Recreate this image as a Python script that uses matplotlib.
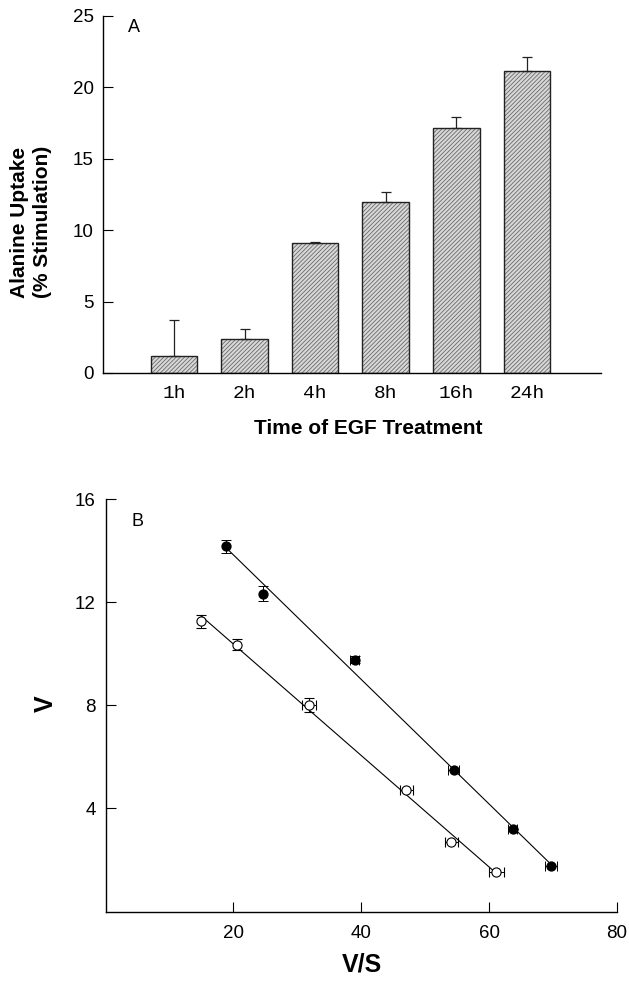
import numpy as np
import matplotlib
matplotlib.use("Agg")
import matplotlib.pyplot as plt

plt.rcParams['font.family'] = ['Liberation Sans', 'DejaVu Sans']
plt.rcParams['hatch.linewidth'] = 0.6

# panel A: alanine uptake after EGF treatment
times = ["1h", "2h", "4h", "8h", "16h", "24h"]
uptake = [1.17, 2.36, 9.1, 12.0, 17.13, 21.15]
uptake_err = [2.52, 0.74, 0.1, 0.7, 0.77, 0.95]

# panel B: Eadie-Hofstee plot
filled_vs = [18.85, 24.6, 38.98, 54.46, 63.7, 69.7]
filled_v = [14.17, 12.34, 9.78, 5.48, 3.2, 1.75]
filled_xerr = [0.0, 0.0, 0.7, 0.9, 0.7, 0.9]
filled_yerr = [0.25, 0.3, 0.15, 0.0, 0.0, 0.0]

open_vs = [14.93, 20.58, 31.87, 47.03, 54.09, 61.15]
open_v = [11.26, 10.36, 8.01, 4.70, 2.71, 1.53]
open_xerr = [0.0, 0.0, 1.1, 1.0, 1.05, 1.1]
open_yerr = [0.25, 0.21, 0.27, 0.0, 0.0, 0.0]

W, H = 629, 983
fig = plt.figure(figsize=(W / 100, H / 100), dpi=100)

def box(l, t, r, b):
    return [l / W, 1 - b / H, (r - l) / W, (b - t) / H]

# ---------- panel A ----------
axA = fig.add_axes(box(103.5, 16, 601, 373))
pos = np.arange(1, len(times) + 1)
axA.bar(pos, uptake, width=0.66, color='#d8d8d8', edgecolor='#6a6a6a',
        linewidth=0, hatch='////////')
axA.bar(pos, uptake, width=0.66, fill=False, edgecolor='#222222', linewidth=1.0)
axA.errorbar(pos, uptake, yerr=[np.zeros(len(uptake)), uptake_err], fmt='none',
             ecolor='#222222', elinewidth=0.9, capsize=3.6, capthick=0.9)
axA.set_xlim(0, 7.05)
axA.set_ylim(0, 25)
axA.set_yticks([0, 5, 10, 15, 20, 25])
axA.set_xticks(pos)
axA.set_xticklabels(times, family=['Liberation Mono', 'DejaVu Sans Mono'], fontsize=14)
axA.tick_params(axis='y', direction='in', length=7, width=0.8, pad=7, labelsize=13.5)
axA.tick_params(axis='x', length=0, pad=9)
for s in ['top', 'right']:
    axA.spines[s].set_visible(False)
for s in ['left', 'bottom']:
    axA.spines[s].set_linewidth(1.0)
fig.text(134 / W, 1 - 27 / H, "A", fontsize=13, ha='center', va='center')
fig.text(31 / W, 1 - 222 / H, "Alanine Uptake\n(% Stimulation)", rotation=90,
         fontsize=15, fontweight='bold', ha='center', va='center',
         multialignment='center')
fig.text(368 / W, 1 - 428 / H, "Time of EGF Treatment", fontsize=15,
         fontweight='bold', ha='center', va='center')

# ---------- panel B ----------
axB = fig.add_axes(box(105.5, 499.3, 617, 911.5))
for xs, ys in [(filled_vs, filled_v), (open_vs, open_v)]:
    k, c = np.polyfit(xs, ys, 1)
    xx = np.array([min(xs), max(xs)])
    axB.plot(xx, k * xx + c, color='black', linewidth=0.8, zorder=1)
axB.errorbar(filled_vs, filled_v, xerr=filled_xerr, yerr=filled_yerr, fmt='o',
             ms=6.4, mfc='black', mec='black', ecolor='black', elinewidth=0.7,
             capsize=3.6, capthick=0.7, zorder=3)
axB.errorbar(open_vs, open_v, xerr=open_xerr, yerr=open_yerr, fmt='o',
             ms=6.6, mfc='white', mec='black', mew=0.8, ecolor='black',
             elinewidth=0.7, capsize=3.6, capthick=0.7, zorder=3)
axB.set_xlim(0, 80)
axB.set_ylim(0, 16)
axB.set_xticks([20, 40, 60, 80])
axB.set_yticks([4, 8, 12, 16])
axB.tick_params(axis='both', direction='in', length=7, width=0.8, labelsize=13.5)
axB.tick_params(axis='y', pad=7)
axB.tick_params(axis='x', pad=10)
for s in ['top', 'right']:
    axB.spines[s].set_visible(False)
for s in ['left', 'bottom']:
    axB.spines[s].set_linewidth(1.0)
fig.text(137.7 / W, 1 - 522 / H, "B", fontsize=13, ha='center', va='center')
fig.text(46 / W, 1 - 704 / H, "V", fontsize=18, fontweight='bold',
         ha='center', va='center', rotation=90)
fig.text(362 / W, 1 - 965 / H, "V/S", fontsize=18, fontweight='bold',
         ha='center', va='center')

fig.savefig("out.png", dpi=100)
